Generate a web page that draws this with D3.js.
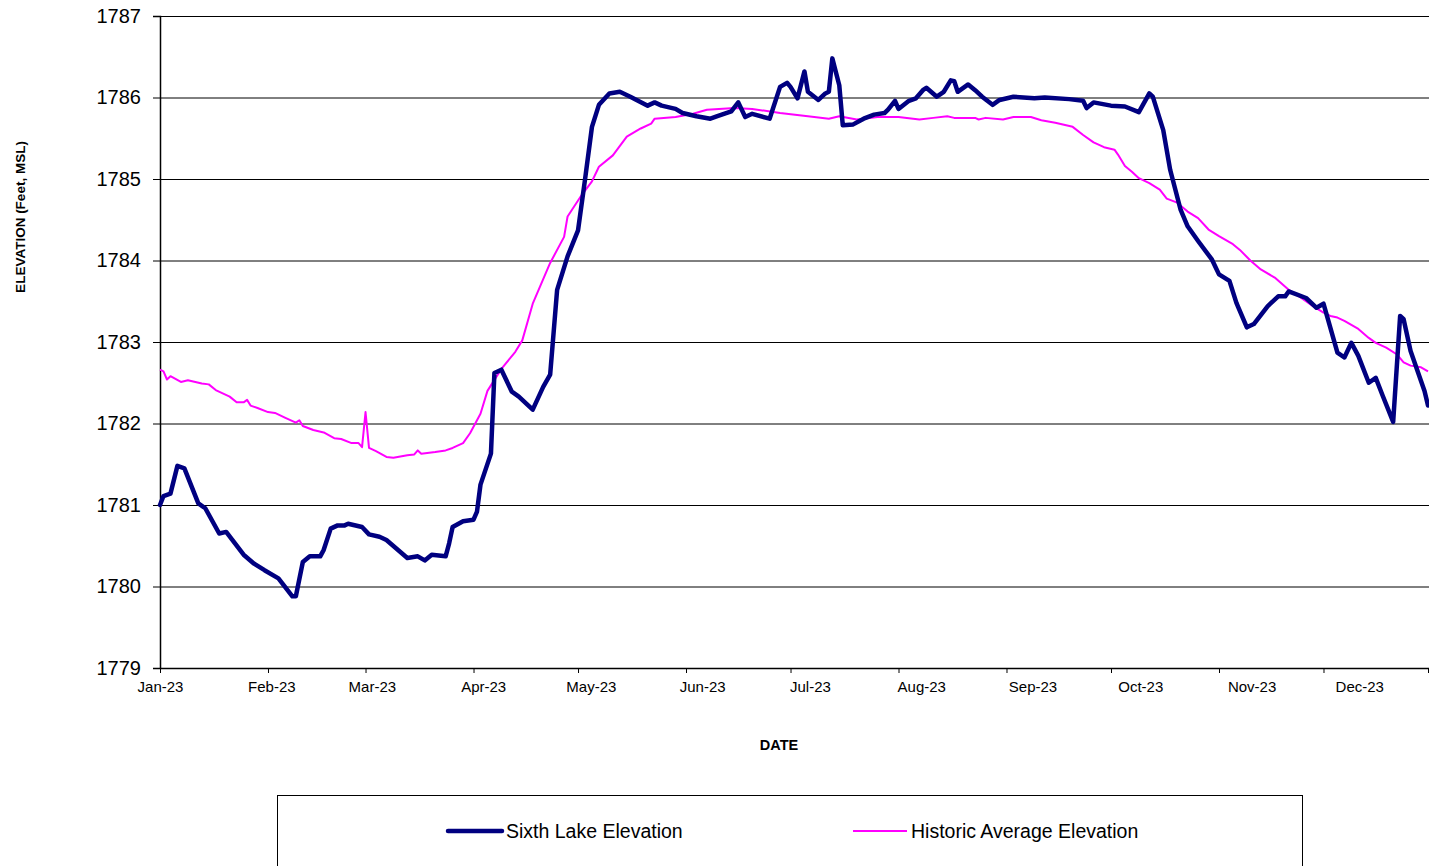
<!DOCTYPE html>
<html>
<head>
<meta charset="UTF-8">
<title>Sixth Lake Elevation 2023</title>
<style>
  body { margin: 0; background: #fff; overflow: hidden; }
  svg text { font-family: Arial, "Liberation Sans", sans-serif; fill: #000; }
</style>
</head>
<body>
<svg id="chart" width="1429" height="866"></svg>

<script src="https://cdn.jsdelivr.net/npm/d3@7"></script>
<script>
// days counted from 1 Jan 2023, elevations in feet MSL
const sixthDays = [
  0, 1, 3, 5, 7, 11, 13, 17, 19, 24,
  27, 30, 34, 38, 39, 41, 43, 46, 47, 49,
  51, 53, 54, 58, 60, 63, 65, 71, 74, 76,
  78, 82, 83, 84, 87, 90, 91, 92, 95, 96,
  98, 101, 103, 107, 110, 112, 114, 117, 120, 122,
  124, 126, 129, 132, 135, 140, 142, 144, 148, 150,
  154, 158, 160, 164, 166, 168, 170, 175, 178, 180,
  181, 183, 185, 186, 189, 191, 192, 193, 195, 196,
  199, 202, 205, 208, 209, 211, 212, 215, 217, 219,
  220, 223, 225, 227, 228, 229, 232, 234, 236, 239,
  241, 245, 251, 254, 261, 265, 266, 268, 273, 277,
  281, 284, 285, 288, 290, 293, 295, 298, 302, 304,
  307, 309, 312, 314, 318, 321, 323, 324, 329, 332,
  334, 335, 338, 340, 342, 344, 347, 349, 351, 354,
  356, 357, 359, 363, 364
];
const sixthElev = [
  1781.00, 1781.11, 1781.14, 1781.48, 1781.45, 1781.02, 1780.96, 1780.65, 1780.67, 1780.39,
  1780.28, 1780.20, 1780.10, 1779.88, 1779.88, 1780.30, 1780.37, 1780.37, 1780.45, 1780.71,
  1780.75, 1780.75, 1780.77, 1780.73, 1780.64, 1780.61, 1780.57, 1780.35, 1780.37, 1780.32,
  1780.39, 1780.37, 1780.53, 1780.73, 1780.80, 1780.82, 1780.92, 1781.25, 1781.63, 1782.62,
  1782.66, 1782.39, 1782.33, 1782.17, 1782.45, 1782.60, 1783.64, 1784.05, 1784.37, 1784.99,
  1785.64, 1785.91, 1786.05, 1786.07, 1786.01, 1785.90, 1785.94, 1785.90, 1785.86, 1785.81,
  1785.77, 1785.74, 1785.77, 1785.83, 1785.94, 1785.76, 1785.80, 1785.74, 1786.13, 1786.18,
  1786.13, 1785.99, 1786.32, 1786.07, 1785.97, 1786.05, 1786.07, 1786.48, 1786.15, 1785.66,
  1785.67, 1785.74, 1785.79, 1785.81, 1785.85, 1785.96, 1785.86, 1785.96, 1785.99, 1786.09,
  1786.12, 1786.01, 1786.07, 1786.21, 1786.20, 1786.07, 1786.16, 1786.09, 1786.01, 1785.91,
  1785.97, 1786.01, 1785.99, 1786.00, 1785.98, 1785.96, 1785.87, 1785.94, 1785.90, 1785.89,
  1785.82, 1786.05, 1786.01, 1785.60, 1785.11, 1784.62, 1784.42, 1784.24, 1784.01, 1783.83,
  1783.75, 1783.48, 1783.18, 1783.22, 1783.44, 1783.56, 1783.56, 1783.62, 1783.54, 1783.42,
  1783.47, 1783.32, 1782.87, 1782.81, 1782.99, 1782.83, 1782.50, 1782.56, 1782.34, 1782.02,
  1783.32, 1783.28, 1782.89, 1782.40, 1782.22
];

const histDays = [
  0, 1, 2, 3, 6, 8, 12, 14, 16, 20,
  22, 24, 25, 26, 28, 31, 33, 36, 39, 40,
  41, 44, 47, 50, 52, 55, 57, 58, 59, 60,
  62, 65, 67, 71, 73, 74, 75, 79, 82, 84,
  87, 89, 92, 94, 98, 102, 104, 107, 112, 116,
  117, 121, 124, 126, 130, 134, 138, 141, 142, 148,
  153, 157, 165, 170, 178, 186, 192, 195, 200, 206,
  212, 218, 222, 226, 228, 234, 235, 237, 242, 245,
  250, 253, 257, 262, 265, 268, 271, 274, 275, 277,
  279, 281, 284, 287, 289, 292, 295, 298, 301, 304,
  308, 310, 313, 316, 320, 324, 327, 331, 334, 336,
  338, 340, 344, 347, 349, 352, 355, 357, 359, 362, 364
];
const histElev = [
  1782.66, 1782.64, 1782.54, 1782.58, 1782.51, 1782.53, 1782.49, 1782.48, 1782.41, 1782.33,
  1782.26, 1782.26, 1782.29, 1782.22, 1782.19, 1782.14, 1782.13, 1782.07, 1782.01, 1782.04,
  1781.97, 1781.92, 1781.89, 1781.82, 1781.81, 1781.76, 1781.76, 1781.71, 1782.14, 1781.70,
  1781.66, 1781.59, 1781.58, 1781.61, 1781.62, 1781.67, 1781.63, 1781.65, 1781.67, 1781.70,
  1781.76, 1781.88, 1782.12, 1782.40, 1782.67, 1782.88, 1783.02, 1783.47, 1783.97, 1784.29,
  1784.54, 1784.80, 1784.97, 1785.15, 1785.29, 1785.52, 1785.62, 1785.68, 1785.74, 1785.76,
  1785.80, 1785.85, 1785.87, 1785.86, 1785.81, 1785.77, 1785.74, 1785.77, 1785.73, 1785.76,
  1785.76, 1785.73, 1785.75, 1785.77, 1785.75, 1785.75, 1785.73, 1785.75, 1785.73, 1785.76,
  1785.76, 1785.72, 1785.69, 1785.64, 1785.54, 1785.45, 1785.39, 1785.36, 1785.30, 1785.16,
  1785.09, 1785.01, 1784.95, 1784.87, 1784.76, 1784.71, 1784.60, 1784.52, 1784.38, 1784.30,
  1784.20, 1784.13, 1784.00, 1783.89, 1783.79, 1783.64, 1783.56, 1783.44, 1783.36, 1783.32,
  1783.30, 1783.26, 1783.16, 1783.05, 1782.99, 1782.93, 1782.85, 1782.75, 1782.71, 1782.69, 1782.64
];

const yTicks = [1779, 1780, 1781, 1782, 1783, 1784, 1785, 1786, 1787];
const seriesNames = ["Sixth Lake Elevation", "Historic Average Elevation"];
const seriesColors = ["#000080", "#ff00ff"];

const start = new Date(2023, 0, 1);
const end = new Date(2023, 11, 31);

const svg = d3.select('#chart');
const plotLeft = 160, plotRight = 1428, plotTop = 16, plotBottom = 668;

const x = d3.scaleTime().domain([start, end]).range([plotLeft, plotRight]);
// Excel spreads the month labels a little wider than the tick marks
const xLabel = d3.scaleTime().domain([start, end]).range([plotLeft, 1467]);
const y = d3.scaleLinear().domain([1779, 1787]).range([plotBottom, plotTop]);

const months = d3.timeMonth.range(start, new Date(2024, 0, 1));

function toPoints(days, vals) {
    return days.map((d, i) => ({date: d3.timeDay.offset(start, d), value: vals[i]}));
}
const sixth = toPoints(sixthDays, sixthElev);
const hist = toPoints(histDays, histElev);

// horizontal grid
svg.append('g')
    .attr('transform', `translate(${plotLeft},0)`)
    .call(d3.axisLeft(y).tickValues(yTicks).tickSize(-(1429 - plotLeft)).tickFormat(''))
    .call(g => g.select('.domain').remove())
    .call(g => g.selectAll('line').attr('stroke', '#000').attr('stroke-width', 1));

// y axis
svg.append('g')
    .attr('transform', `translate(${plotLeft},0)`)
    .call(d3.axisLeft(y).tickValues(yTicks).tickSize(7).tickPadding(12).tickFormat(d3.format('d')))
    .call(g => g.select('.domain').attr('stroke', '#000').attr('stroke-width', 1.5))
    .call(g => g.selectAll('line').attr('stroke', '#000'))
    .call(g => g.selectAll('text').attr('font-size', 20).attr('font-family', 'Arial, "Liberation Sans", sans-serif'));

// x axis ticks
svg.append('g')
    .attr('transform', `translate(0,${plotBottom})`)
    .call(d3.axisBottom(x).tickValues(months.concat([end])).tickSize(5).tickFormat(''))
    .call(g => g.select('.domain').attr('stroke', '#000').attr('stroke-width', 1.5).attr('d', `M${plotLeft},0.5H1429`))
    .call(g => g.selectAll('line').attr('stroke', '#000'));

// x axis labels
svg.append('g')
    .attr('transform', `translate(0,${plotBottom})`)
    .call(d3.axisBottom(xLabel).tickValues(months).tickSize(0).tickPadding(13).tickFormat(d3.timeFormat('%b-%y')))
    .call(g => g.select('.domain').remove())
    .call(g => g.selectAll('text').attr('font-size', 15).attr('font-family', 'Arial, "Liberation Sans", sans-serif'));

// lines
const line = d3.line().x(d => x(d.date)).y(d => y(d.value));

svg.append('path')
    .datum(hist)
    .attr('fill', 'none')
    .attr('stroke', seriesColors[1])
    .attr('stroke-width', 2)
    .attr('stroke-linejoin', 'round')
    .attr('d', line);

svg.append('path')
    .datum(sixth)
    .attr('fill', 'none')
    .attr('stroke', seriesColors[0])
    .attr('stroke-width', 4.5)
    .attr('stroke-linejoin', 'round')
    .attr('stroke-linecap', 'round')
    .attr('d', line);

// axis titles
svg.append('text')
    .attr('transform', 'translate(25,217) rotate(-90)')
    .attr('text-anchor', 'middle')
    .attr('font-size', 13.5)
    .attr('font-weight', 'bold')
    .text('ELEVATION (Feet, MSL)');

svg.append('text')
    .attr('x', 779)
    .attr('y', 750)
    .attr('text-anchor', 'middle')
    .attr('font-size', 14.5)
    .attr('font-weight', 'bold')
    .text('DATE');

// legend
const legend = svg.append('g');
legend.append('rect')
    .attr('x', 277.5).attr('y', 795.5)
    .attr('width', 1025).attr('height', 100)
    .attr('fill', 'none').attr('stroke', '#000').attr('stroke-width', 1);

const legendX = [448, 853];
const legendW = [4.5, 2];
seriesNames.forEach((name, i) => {
    legend.append('line')
        .attr('x1', legendX[i]).attr('x2', legendX[i] + 54)
        .attr('y1', 831).attr('y2', 831)
        .attr('stroke', seriesColors[i]).attr('stroke-width', legendW[i])
        .attr('stroke-linecap', i === 0 ? 'round' : 'butt');
    legend.append('text')
        .attr('x', legendX[i] + 58).attr('y', 838)
        .attr('font-size', 19.5)
        .text(name);
});
</script>
</body>
</html>
